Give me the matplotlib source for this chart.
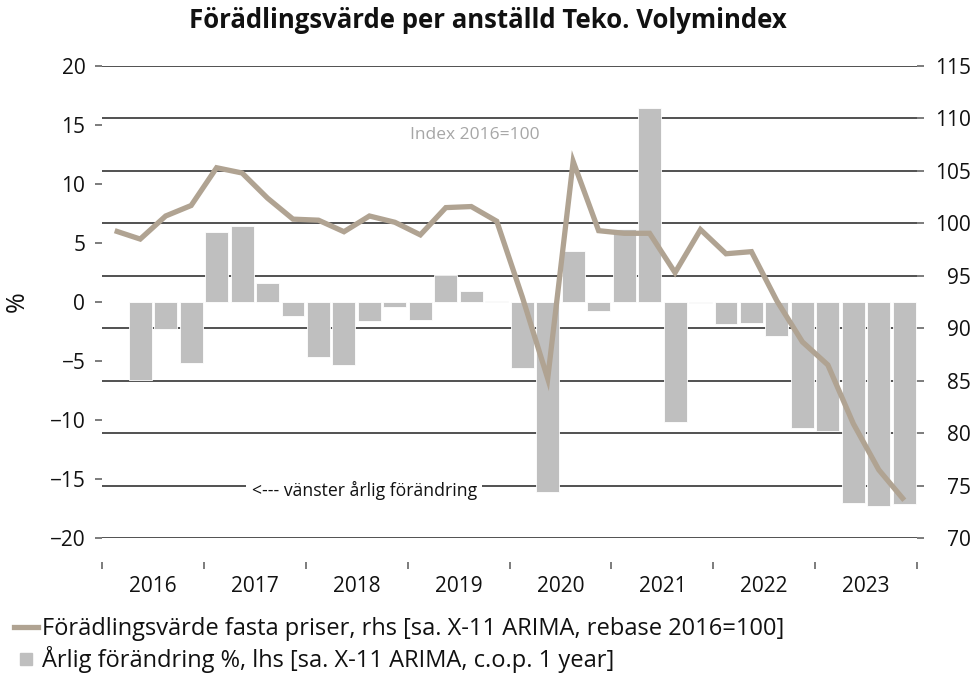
import matplotlib
matplotlib.use('Agg')
import matplotlib.pyplot as plt
import matplotlib.transforms as mtransforms
from matplotlib.lines import Line2D
import numpy as np

plt.rcParams['font.family'] = ['Open Sans', 'DejaVu Sans']

# ---------------- data ----------------
years = ['2016', '2017', '2018', '2019', '2020', '2021', '2022', '2023']
quarters = [f'{y}Q{q}' for y in years for q in range(1, 5)]

# Förädlingsvärde fasta priser (index, rhs)
index_values = [99.3, 98.5, 100.7, 101.7, 105.3, 104.8, 102.4, 100.4,
                100.3, 99.2, 100.7, 100.1, 98.9, 101.5, 101.6, 100.2,
                93.0, 85.2, 105.9, 99.3, 99.05, 99.05, 95.3, 99.4,
                97.1, 97.3, 92.6, 88.7, 86.5, 80.9, 76.5, 73.6]

# Årlig förändring % (lhs); first quarter has no value
yoy_change = [np.nan, -6.6, -2.3, -5.2, 5.9, 6.4, 1.6, -1.2,
              -4.7, -5.3, -1.6, -0.4, -1.5, 2.3, 0.9, 0.1,
              -5.6, -16.1, 4.3, -0.8, 6.2, 16.4, -10.2, -0.1,
              -1.9, -1.8, -2.85, -10.65, -10.9, -17.0, -17.25, -17.1]

left_ticks = [-20, -15, -10, -5, 0, 5, 10, 15, 20]
right_ticks = [70, 75, 80, 85, 90, 95, 100, 105, 110, 115]

title = 'Förädlingsvärde per anställd Teko. Volymindex'
line_label = 'Förädlingsvärde fasta priser, rhs [sa. X-11 ARIMA, rebase 2016=100]'
bar_label = 'Årlig förändring %, lhs [sa. X-11 ARIMA, c.o.p. 1 year]'

# ---------------- style ----------------
line_color = '#B0A392'
bar_color = '#BFBFBF'
grid_color = '#222222'
tick_color = '#666666'
text_color = '#111111'

W, H = 975, 676
fig = plt.figure(figsize=(W / 100, H / 100), dpi=100)
ax = fig.add_axes([102 / W, 1 - 538 / H, (917 - 102) / W, (538 - 66) / H])
ax2 = ax.twinx()

x = np.arange(len(quarters))
yoy = np.array(yoy_change, dtype=float)
mask = ~np.isnan(yoy)

ax.set_xlim(-0.5, len(quarters) - 0.5)
ax.set_ylim(left_ticks[0], left_ticks[-1])
ax2.set_ylim(right_ticks[0], right_ticks[-1])

# gridlines at right-axis ticks, drawn below bars
gtrans = mtransforms.blended_transform_factory(ax.transAxes, ax2.transData)
for v in right_ticks:
    ax.add_line(Line2D([0, 1], [v, v], transform=gtrans, color=grid_color,
                       lw=1.1, zorder=0.5))

ax.bar(x[mask], yoy[mask], width=0.9, color=bar_color, edgecolor='white',
       linewidth=0.6, zorder=2)

ax2.plot(x, index_values, color=line_color, lw=3.8, solid_joinstyle='miter',
         solid_capstyle='butt', zorder=3)

for a in (ax, ax2):
    for s in a.spines.values():
        s.set_visible(False)

# left axis
ax.tick_params(axis='y', which='major', length=5, width=1.2, color=tick_color,
               labelsize=15, pad=7, labelcolor=text_color)
ax.set_yticks(left_ticks, labels=[str(t).replace('-', '−') for t in left_ticks])
ax.set_ylabel('%', fontsize=18, labelpad=14, color=text_color)

# right axis: labels right-aligned near the figure edge
ax2.tick_params(axis='y', which='major', length=5, width=1.2, color=tick_color,
                labelsize=15, pad=34, labelcolor=text_color)
ax2.set_yticks(right_ticks, labels=[str(t) for t in right_ticks], ha='right')

# x axis: year boundary marks, labels at year centers
ax.spines['bottom'].set_position(('outward', 17))
ax.set_xticks(np.arange(-0.5, len(quarters), 4))
ax.set_xticklabels([])
ax.tick_params(axis='x', which='major', length=5, width=1.2, color=tick_color,
               direction='out')
ax.tick_params(axis='x', which='minor', length=0, pad=10, labelsize=15,
               labelcolor=text_color)
ax.set_xticks(np.arange(1.5, len(quarters), 4), minor=True)
ax.set_xticklabels(years, minor=True)

# annotations
ax2.text(14.15, 108.4, 'Index 2016=100', color='#A6A6A6', fontsize=12.5,
         ha='center', va='center', zorder=4)
ax2.text(9.8, 74.5, '<--- vänster årlig förändring', color=text_color,
         fontsize=12.7, ha='center', va='center', zorder=4,
         bbox=dict(facecolor='white', edgecolor='none', pad=4))

fig.text(0.5, 1 - 20 / H, title, ha='center', va='center', fontsize=18.5,
         fontweight='bold', color=text_color)

handles = [Line2D([], [], color=line_color, lw=3.8),
           Line2D([], [], color=bar_color, marker='s', markersize=8, lw=0)]
fig.legend(handles, [line_label, bar_label], loc='upper left',
           bbox_to_anchor=(14 / W, 1 - 617 / H), frameon=False, fontsize=17,
           handlelength=1.0, handletextpad=0.2, labelspacing=0.22,
           borderpad=0, borderaxespad=0, labelcolor=text_color)

fig.savefig('out.png', dpi=100)
